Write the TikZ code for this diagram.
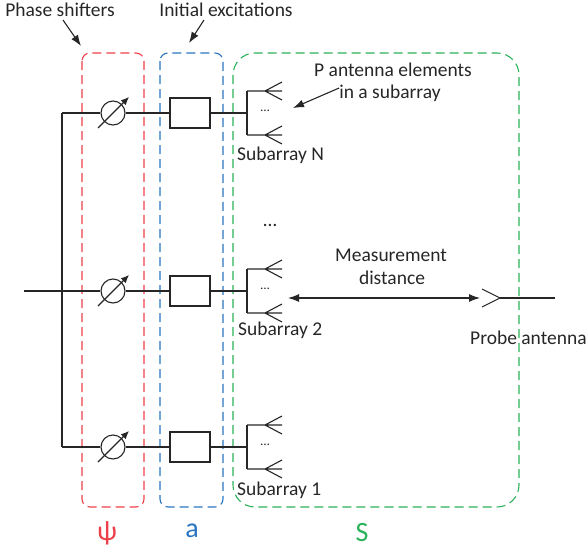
\documentclass[tikz,border=0pt]{standalone}
\usepackage{fontspec}
\setmainfont{Carlito}
\usetikzlibrary{arrows.meta}
\definecolor{psred}{RGB}{238,64,74}
\definecolor{exblue}{RGB}{40,116,192}
\definecolor{chgreen}{RGB}{44,178,90}
\definecolor{ink}{RGB}{38,38,38}
\tikzset{
  wire/.style={draw=ink, line width=1.1pt},
  pointer/.style={wire, -{Latex[length=11pt,width=8pt]}},
  shifter/.style={circle, draw=ink, line width=1.1pt, minimum size=24pt, inner sep=0pt},
  excite/.style={rectangle, draw=ink, line width=1.1pt, minimum width=40pt, minimum height=30pt, inner sep=0pt},
  groupbox/.style={line width=1.1pt, dash pattern=on 9pt off 5pt},
  lbl/.style={font=\fontsize{19.5}{23}\selectfont, text=ink, inner sep=0pt},
  sym/.style={font=\fontsize{28}{32}\selectfont, inner sep=0pt},
  elem/.pic={\draw[wire] (-18,0) -- (17,0) (0,0) -- (17,-9) (0,0) -- (17,9);}
}

\begin{document}
\begin{tikzpicture}[x=1pt,y=-1pt]
\useasboundingbox (0,0) rectangle (588,551);
% groups
\draw[groupbox, psred, rounded corners=8pt] (82,53) rectangle (144,507);
\draw[groupbox, exblue, rounded corners=8pt] (160,53) rectangle (223,507);
\draw[groupbox, chgreen, rounded corners=22pt] (233,53) rectangle (519,507);
\node[sym, text=psred] (psi) at (107,533) {ψ};
\node[sym, text=exblue] (avec) at (192,531) {a};
\node[sym, text=chgreen] (smat) at (362,533) {S};
\node[lbl] (phase) at (60,10) {Phase shifters};
\node[lbl] (init) at (226,10) {Initial excitations};
\coordinate (phaseTip) at (81,46);
\coordinate (initTip) at (189,43);
\draw[pointer] ([xshift=3pt,yshift=-3pt]phase.south) -- (phaseTip);
\draw[pointer] ([xshift=-22pt,yshift=-3pt]init.south) -- (initTip);

% feed network
\coordinate (in) at (24,291);
\coordinate (busN) at (62,113);
\coordinate (bus2) at (62,291);
\coordinate (bus1) at (62,447);
\draw[wire] (in) -- (bus2);
\draw[wire] (busN) -- (bus1);

% subarray N
\node[shifter] (psN) at (113,113) {};
\node[excite] (exN) at (190,113) {};
\coordinate (arrN) at (247,113);
\coordinate (arrNt) at (247,91);
\coordinate (arrNb) at (247,135);
\draw[wire] (busN) -- (psN) (psN) -- (exN) (exN) -- (arrN);
\draw[wire] (arrNt) -- (arrNb);
\pic at ([xshift=18pt]arrNt) {elem};
\pic at ([xshift=18pt]arrNb) {elem};
\draw[pointer, -{Latex[length=8pt,width=7pt]}] ([shift={(-15,15)}]psN.center) -- ([shift={(16,-16)}]psN.center);
\node[font=\fontsize{13}{15}\selectfont, text=ink] (dotsN) at (265,111) {\ldots};
\node[lbl, anchor=west] (subN) at (237,155) {Subarray N};
\node[lbl] (pant1) at (393,70) {P antenna elements};
\node[lbl] (pant2) at (390,93) {in a subarray};
\coordinate (pantTip) at (293,108);
\draw[pointer] ([yshift=5pt]pant2.west) -- (pantTip);

\node[font=\fontsize{19.5}{23}\selectfont, text=ink] (skip) at (270,225) {\ldots};

% subarray 2
\node[shifter] (ps2) at (113,291) {};
\node[excite] (ex2) at (190,291) {};
\coordinate (arr2) at (247,291);
\coordinate (arr2t) at (247,269);
\coordinate (arr2b) at (247,313);
\draw[wire] (bus2) -- (ps2) (ps2) -- (ex2) (ex2) -- (arr2);
\draw[wire] (arr2t) -- (arr2b);
\pic at ([xshift=18pt]arr2t) {elem};
\pic at ([xshift=18pt]arr2b) {elem};
\draw[pointer, -{Latex[length=8pt,width=7pt]}] ([shift={(-15,15)}]ps2.center) -- ([shift={(16,-16)}]ps2.center);
\node[font=\fontsize{13}{15}\selectfont, text=ink] (dots2) at (265,289) {\ldots};
\node[lbl, anchor=west] (sub2) at (238,330) {Subarray 2};

% subarray 1
\node[shifter] (ps1) at (113,447) {};
\node[excite] (ex1) at (190,447) {};
\coordinate (arr1) at (247,447);
\coordinate (arr1t) at (247,425);
\coordinate (arr1b) at (247,469);
\draw[wire] (bus1) -- (ps1) (ps1) -- (ex1) (ex1) -- (arr1);
\draw[wire] (arr1t) -- (arr1b);
\pic at ([xshift=18pt]arr1t) {elem};
\pic at ([xshift=18pt]arr1b) {elem};
\draw[pointer, -{Latex[length=8pt,width=7pt]}] ([shift={(-15,15)}]ps1.center) -- ([shift={(16,-16)}]ps1.center);
\node[font=\fontsize{13}{15}\selectfont, text=ink] (dots1) at (265,445) {\ldots};
\node[lbl, anchor=west] (sub1) at (237,490) {Subarray 1};

% probe and distance
\coordinate (probe) at (500,298);
\coordinate (probeEnd) at (555,298);
\draw[wire] (probe) -- (probeEnd);
\draw[wire] (482,289) -- (probe) -- (482,307);
\node[lbl, anchor=west] (probeLbl) at (470,338) {Probe antenna};
\coordinate (distA) at (288,298);
\coordinate (distB) at (480,298);
\draw[wire, {Latex[length=11pt,width=8pt]}-{Latex[length=11pt,width=8pt]}] (distA) -- (distB);
\node[lbl] (meas1) at (391,255) {Measurement};
\node[lbl] (meas2) at (392,278) {distance};
\end{tikzpicture}
\end{document}
